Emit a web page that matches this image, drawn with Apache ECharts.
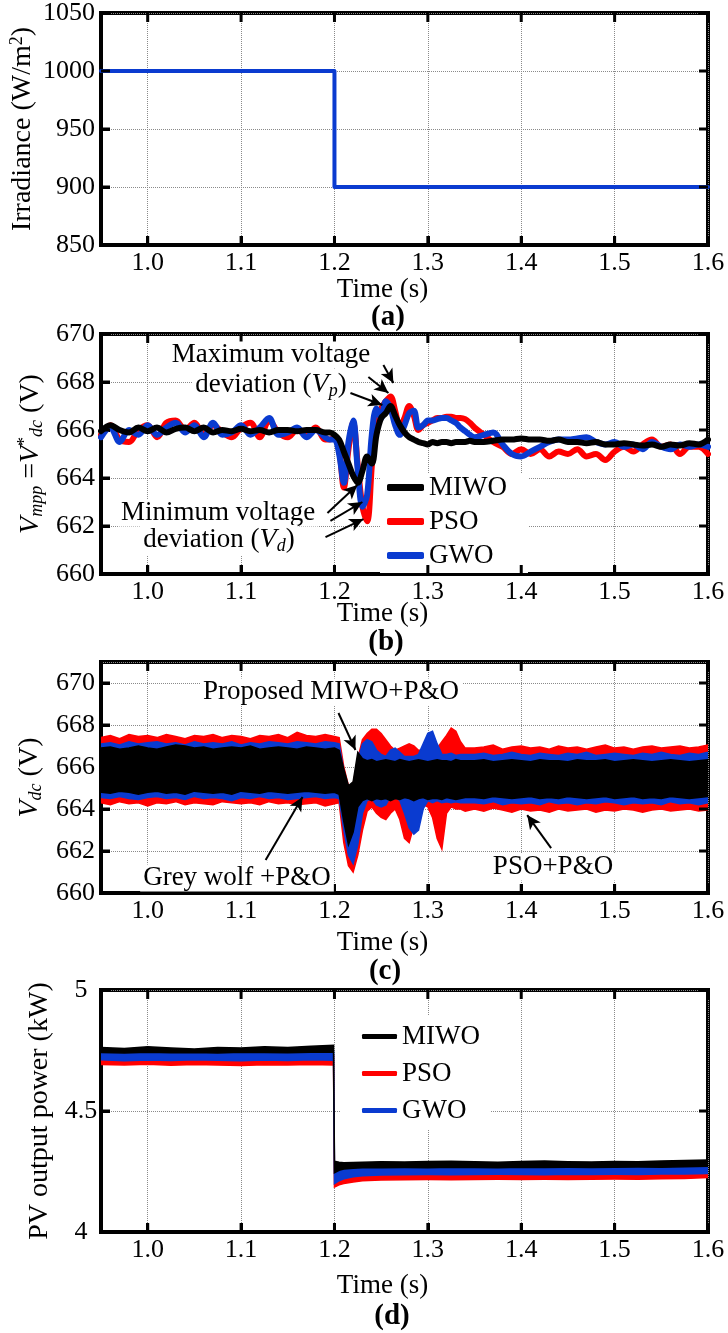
<!DOCTYPE html>
<html><head><meta charset="utf-8">
<script src="https://cdn.jsdelivr.net/npm/echarts@6/dist/echarts.min.js"></script>
<style>html,body{margin:0;padding:0;background:#fff}#c{width:728px;height:1333px}</style>
</head><body><div id="c"></div>
<script>
// ---------- data ----------
const xTicks = [1.0, 1.1, 1.2, 1.3, 1.4, 1.5, 1.6];
const yTicksA = [850, 900, 950, 1000, 1050];
const yTicksB = [660, 662, 664, 666, 668, 670];
const yTicksC = [660, 662, 664, 666, 668, 670];
const yTicksD = [4, 4.5, 5];

// (a) irradiance
const tA = [0.95, 1.2, 1.2, 1.6];
const irradiance = [1000, 1000, 900, 900];

// (b) Vmpp = V*dc
const tB = [0.95,0.96,0.97,0.98,0.99,1.00,1.01,1.02,1.03,1.04,1.05,1.06,1.07,1.08,1.09,1.10,1.11,1.12,1.13,1.14,1.15,1.16,1.17,1.18,1.19,
  1.195,1.2,1.205,1.21,1.215,1.22,1.225,1.23,1.235,1.24,1.245,1.25,1.255,1.26,1.265,1.27,1.275,1.28,1.285,1.29,1.295,1.30,1.305,1.31,1.315,1.32,1.325,1.33,1.335,1.34,1.345,1.35,
  1.36,1.37,1.38,1.39,1.40,1.41,1.42,1.43,1.44,1.45,1.46,1.47,1.48,1.49,1.50,1.51,1.52,1.53,1.54,1.55,1.56,1.57,1.58,1.59,1.60];
const miwoB = [665.95,666.2,666.0,665.9,666.1,665.95,666.1,665.9,666.05,666.1,665.95,666.1,665.9,666.0,665.95,666.05,665.95,666.0,665.9,666.0,666.0,665.95,666.0,666.0,665.9,
  665.9,665.8,665.6,665.1,664.6,664.1,663.8,664.3,664.9,664.6,665.8,666.5,666.7,667.0,666.6,666.2,665.9,665.7,665.6,665.5,665.45,665.4,665.5,665.45,665.5,665.5,665.45,665.5,665.5,665.5,665.55,665.5,
  665.5,665.55,665.6,665.6,665.65,665.6,665.6,665.55,665.6,665.5,665.5,665.45,665.5,665.4,665.4,665.45,665.4,665.35,665.4,665.3,665.4,665.35,665.45,665.4,665.6];
const psoB = [665.8,666.2,665.6,665.5,666.0,666.2,665.7,666.3,666.4,666.0,666.3,665.8,666.2,665.9,665.7,666.1,666.3,665.7,666.4,665.9,665.7,666.0,665.8,666.1,665.6,
  665.6,665.7,665.2,663.6,665.2,666.3,664.5,662.8,662.2,664.5,666.6,666.9,667.2,667.4,666.8,666.1,666.5,667.0,666.6,666.0,666.2,666.3,666.4,666.5,666.5,666.55,666.55,666.5,666.5,666.45,666.3,666.1,
  665.8,665.5,665.3,665.0,665.2,665.0,665.2,664.9,665.1,665.0,665.2,664.9,665.0,664.75,665.1,665.3,665.1,665.4,665.6,665.3,665.4,665.0,665.3,665.3,665.0];
const gwoB = [665.7,666.1,665.5,666.0,665.8,666.2,665.8,666.1,666.3,665.9,666.2,665.7,666.3,665.8,665.9,666.2,665.8,666.1,666.5,665.8,665.9,666.1,665.7,666.0,665.7,
  665.6,665.6,665.0,663.8,665.5,666.4,664.3,662.8,663.3,665.8,666.9,666.5,667.2,666.9,666.2,665.8,666.2,666.7,666.8,666.1,666.2,666.4,666.4,666.45,666.5,666.5,666.4,666.3,666.1,665.95,665.8,665.7,
  665.8,665.9,665.4,665.0,664.9,665.1,665.3,665.5,665.6,665.6,665.65,665.7,665.5,665.4,665.5,665.3,665.4,665.2,665.5,665.3,665.2,665.4,665.3,665.4,665.3];

// (c) Vdc ripple envelopes (upper / lower)
const tC = [0.95,0.96,0.97,0.98,0.99,1.00,1.01,1.02,1.03,1.04,1.05,1.06,1.07,1.08,1.09,1.10,1.11,1.12,1.13,1.14,1.15,1.16,1.17,1.18,1.19,1.20,
  1.205,1.21,1.215,1.22,1.225,1.23,1.235,1.24,1.245,1.25,1.255,1.26,1.265,1.27,1.275,1.28,1.285,1.29,1.295,1.30,1.305,1.31,1.315,1.32,1.325,1.33,1.335,1.34,
  1.35,1.36,1.37,1.38,1.39,1.40,1.41,1.42,1.43,1.44,1.45,1.46,1.47,1.48,1.49,1.50,1.51,1.52,1.53,1.54,1.55,1.56,1.57,1.58,1.59,1.60];
const miwoCUp = [666.9,666.95,666.85,666.9,667.0,666.9,666.85,666.95,667.05,667.0,666.9,666.95,666.85,666.9,666.95,666.9,667.0,666.85,666.9,666.95,666.9,666.85,666.95,666.9,666.85,666.9,
  666.8,665.9,665.1,665.3,666.7,666.4,666.3,666.35,666.25,666.3,666.35,666.3,666.25,666.35,666.3,666.25,666.3,666.35,666.3,666.25,666.3,666.35,666.3,666.3,666.25,666.35,666.3,666.3,
  666.3,666.35,666.25,666.3,666.35,666.3,666.25,666.35,666.3,666.3,666.25,666.35,666.3,666.3,666.35,666.25,666.3,666.35,666.3,666.25,666.3,666.35,666.3,666.25,666.3,666.35];
const miwoCLo = [664.8,664.75,664.85,664.8,664.7,664.8,664.85,664.75,664.8,664.7,664.85,664.8,664.75,664.8,664.7,664.85,664.8,664.75,664.85,664.8,664.75,664.8,664.85,664.8,664.75,664.8,
  664.7,663.4,662.3,662.9,664.1,664.4,664.5,664.4,664.5,664.45,664.5,664.4,664.5,664.45,664.55,664.5,664.4,664.5,664.55,664.45,664.5,664.5,664.45,664.55,664.5,664.45,664.5,664.55,
  664.55,664.5,664.6,664.55,664.5,664.55,664.6,664.5,664.55,664.5,664.6,664.55,664.5,664.55,664.6,664.5,664.55,664.6,664.5,664.55,664.5,664.6,664.55,664.5,664.55,664.6];
const gwoCUp = [667.1,667.15,667.05,667.2,667.1,667.15,667.2,667.1,667.15,667.05,667.2,667.1,667.15,667.1,667.2,667.05,667.15,667.1,667.2,667.15,667.1,667.2,667.15,667.1,667.2,667.15,
  667.1,665.8,665.0,665.1,666.3,667.1,667.3,667.2,666.8,666.6,666.5,666.8,666.9,666.7,666.5,666.5,666.5,666.6,667.1,667.6,667.7,667.1,666.6,666.6,666.65,666.55,666.6,666.6,
  666.6,666.65,666.55,666.6,666.7,666.6,666.55,666.65,666.6,666.55,666.65,666.6,666.7,666.55,666.6,666.65,666.6,666.55,666.65,666.6,666.7,666.6,666.55,666.65,666.6,666.7];
const gwoCLo = [664.55,664.5,664.6,664.5,664.45,664.55,664.6,664.5,664.55,664.45,664.6,664.5,664.55,664.5,664.4,664.55,664.5,664.6,664.5,664.55,664.45,664.5,664.55,664.6,664.5,664.55,
  664.5,663.0,661.8,661.4,662.3,663.8,664.4,664.5,664.2,664.1,664.2,664.6,664.6,664.4,663.8,663.1,662.8,663.0,664.0,664.4,664.3,664.4,664.3,664.35,664.3,664.35,664.3,664.3,
  664.3,664.25,664.35,664.2,664.3,664.25,664.3,664.2,664.35,664.25,664.3,664.2,664.3,664.25,664.35,664.3,664.2,664.3,664.25,664.3,664.2,664.35,664.25,664.3,664.2,664.3];
const psoCUp = [667.4,667.5,667.35,667.55,667.45,667.5,667.4,667.55,667.45,667.35,667.5,667.45,667.55,667.4,667.5,667.45,667.35,667.5,667.45,667.55,667.4,667.65,667.5,667.45,667.55,667.45,
  667.4,666.0,665.1,665.2,666.4,667.3,667.6,667.8,667.8,667.6,667.3,667.0,666.8,666.9,667.0,667.1,667.0,666.8,666.8,666.9,666.8,666.9,667.2,667.5,667.85,667.7,667.2,666.9,
  666.9,666.95,667.05,666.85,666.95,667.0,666.9,666.95,666.85,667.0,666.9,666.95,666.85,666.95,667.05,666.9,666.95,666.85,666.95,667.0,666.9,666.95,667.0,666.9,666.95,667.05];
const psoCLo = [664.3,664.2,664.35,664.25,664.3,664.15,664.3,664.25,664.35,664.2,664.3,664.25,664.2,664.35,664.3,664.25,664.3,664.2,664.35,664.25,664.3,664.2,664.25,664.3,664.15,664.25,
  664.3,662.4,661.3,661.0,661.8,663.0,663.9,664.1,663.8,663.6,663.5,663.8,664.0,663.5,662.6,662.4,663.2,664.0,664.2,664.1,663.6,662.6,662.1,663.8,664.1,664.0,664.0,663.9,
  664.0,663.9,664.05,663.95,663.85,664.0,663.9,663.95,663.85,664.0,663.9,663.95,664.0,663.85,663.95,663.9,664.0,663.95,663.85,663.95,664.0,663.9,663.95,664.0,663.9,663.95];

// (d) PV output power envelopes (kW)
const tD = [0.95,0.975,1.0,1.025,1.05,1.075,1.1,1.125,1.15,1.175,1.199,
  1.2,1.205,1.21,1.22,1.23,1.25,1.275,1.3,1.325,1.35,1.375,1.4,1.425,1.45,1.475,1.5,1.525,1.55,1.575,1.6];
const miwoDUp = [4.762,4.758,4.765,4.760,4.756,4.762,4.760,4.766,4.762,4.768,4.772,
  4.292,4.288,4.286,4.287,4.288,4.290,4.289,4.291,4.292,4.290,4.288,4.291,4.293,4.290,4.289,4.291,4.290,4.293,4.295,4.298];
const miwoDLo = [4.742,4.740,4.743,4.741,4.742,4.740,4.743,4.742,4.741,4.743,4.744,
  4.245,4.255,4.260,4.263,4.265,4.266,4.267,4.266,4.268,4.267,4.266,4.268,4.267,4.268,4.267,4.268,4.269,4.268,4.270,4.272];
const gwoDUp = [4.745,4.744,4.746,4.745,4.744,4.746,4.745,4.746,4.745,4.746,4.747,
  4.270,4.271,4.272,4.272,4.271,4.273,4.272,4.272,4.273,4.272,4.271,4.273,4.272,4.273,4.272,4.271,4.273,4.272,4.274,4.275];
const gwoDLo = [4.712,4.708,4.711,4.709,4.712,4.710,4.708,4.711,4.709,4.712,4.710,
  4.200,4.212,4.220,4.228,4.232,4.236,4.237,4.238,4.237,4.238,4.239,4.238,4.237,4.239,4.238,4.239,4.238,4.240,4.240,4.242];
const psoDUp = [4.728,4.726,4.729,4.727,4.728,4.726,4.729,4.727,4.728,4.727,4.728,
  4.240,4.245,4.248,4.250,4.250,4.251,4.250,4.252,4.251,4.250,4.252,4.251,4.250,4.252,4.251,4.252,4.251,4.253,4.254,4.258];
const psoDLo = [4.692,4.690,4.693,4.689,4.692,4.690,4.688,4.691,4.690,4.692,4.690,
  4.186,4.195,4.200,4.207,4.212,4.215,4.216,4.217,4.216,4.217,4.218,4.217,4.218,4.217,4.218,4.219,4.218,4.220,4.221,4.225];

// annotation arrows [x0, y0, x1, y1] in data units
const arrowsB = [[1.2171,667.54,1.2513,667.04],[1.2363,668.21,1.2578,667.54],[1.2524,668.71,1.2631,667.96],
  [1.1925,662.54,1.2246,663.71],[1.1957,662.21,1.2299,663.0],[1.1904,661.54,1.2310,662.29]];
const arrowsC = [[1.2043,668.57,1.2225,666.81],[1.1263,661.57,1.1658,664.57],[1.4320,662.14,1.4064,663.71]];

// ---------- styling / layout ----------
const FONT = '"Liberation Serif", serif';
const RED = '#ff0000', BLUE = '#0a3bd0', BLACK = '#000000';
const GRIDS = [{top:13,height:232},{top:334,height:240},{top:662,height:231},{top:990,height:242}];
const XR = [0.95, 1.6];
const YR = [[850,1050,50],[660,670,2],[660,671,2],[4,5,0.5]];
const Y_TICKS = [yTicksA, yTicksB, yTicksC, yTicksD];
const X_NAME_GAP = [31,26,36,40];
const Y_NAME_GAP = [63,55,56,46];
const RICH = {
  i:{fontStyle:'italic',fontFamily:FONT,fontSize:28,lineHeight:30,color:'#000'},
  sub:{fontStyle:'italic',fontFamily:FONT,fontSize:18,lineHeight:14,verticalAlign:'bottom',color:'#000'},
  sup:{fontFamily:FONT,fontSize:18,lineHeight:14,verticalAlign:'top',color:'#000'}
};
const Y_NAMES = ['Irradiance (W/m{sup|2})','{i|V}{sub|mpp} ={i|V}{sup|*}{sub|dc} (V)','{i|V}{sub|dc} (V)','PV output power (kW)'];

function axLine(){ return {show:true,onZero:false,lineStyle:{color:'#000',width:4}}; }
function axTick(){ return {show:true,inside:true,length:9,lineStyle:{color:'#000',width:3}}; }
const GRIDLINE = {show:true,lineStyle:{type:'dotted',color:'#8a8a8a',width:1}};

const xAxis = [], yAxis = [];
GRIDS.forEach((g,i)=>{
  xAxis.push({gridIndex:i,type:'value',min:XR[0],max:XR[1],
    name:'Time (s)',nameLocation:'middle',nameGap:X_NAME_GAP[i],nameMoveOverlap:false,
    nameTextStyle:{fontFamily:FONT,fontSize:27,color:'#000',lineHeight:27,padding:[0,44,0,0]},
    axisLine:axLine(),axisTick:Object.assign(axTick(),{customValues:xTicks.slice()}),
    axisLabel:{customValues:xTicks.slice(),formatter:v=>Number(v).toFixed(1),fontFamily:FONT,fontSize:26,color:'#000',margin:5},
    splitLine:GRIDLINE});
  yAxis.push({gridIndex:i,type:'value',min:YR[i][0],max:YR[i][1],interval:YR[i][2],
    name:Y_NAMES[i],nameLocation:'middle',nameRotate:90,nameGap:Y_NAME_GAP[i],nameMoveOverlap:false,
    nameTextStyle:{fontFamily:FONT,fontSize:28,color:'#000',lineHeight:30,rich:RICH},
    axisLine:axLine(),axisTick:axTick(),
    axisLabel:{fontFamily:FONT,fontSize:26,color:'#000',margin:i===3?20:6,align:i===3?'center':'right',
      formatter:v=>String(v),showMaxLabel:i===2?false:null},
    splitLine:GRIDLINE});
});

function lineS(name,color,t,v,gi,w,smooth){
  return {type:'line',name,xAxisIndex:gi,yAxisIndex:gi,data:t.map((x,k)=>[x,v[k]]),
    showSymbol:false,symbol:'none',smooth:smooth||false,
    lineStyle:{color,width:w,cap:'round',join:'round'},itemStyle:{color},silent:true,animation:false};
}
function band(name,color,t,lo,up,gi){
  return {type:'custom',name,xAxisIndex:gi,yAxisIndex:gi,itemStyle:{color},
    data:t.map((x,k)=>[x,lo[k],up[k]]),encode:{x:0,y:[1,2]},clip:true,silent:true,animation:false,
    renderItem:function(params,api){
      if(params.dataIndex!==0) return;
      const top=[],bot=[];
      for(let k=0;k<t.length;k++){top.push(api.coord([t[k],up[k]]));bot.push(api.coord([t[k],lo[k]]));}
      return {type:'polygon',shape:{points:top.concat(bot.reverse())},style:{fill:color,stroke:color,lineWidth:1.5}};
    }};
}
function arrows(name,list,gi){
  return {type:'line',name,xAxisIndex:gi,yAxisIndex:gi,data:[],silent:true,animation:false,
    markLine:{silent:true,animation:false,symbol:['none','arrow'],symbolSize:[10,14],precision:4,
      lineStyle:{color:'#000',width:2,type:'solid'},label:{show:false},
      data:list.map(a=>[{coord:[a[0],a[1]]},{coord:[a[2],a[3]]}])}};
}
// inward tick marks on all four sides of a panel, placed through the axes' scales
function ticks(gi){
  const L = 9, yr = YR[gi];
  const st = {stroke:'#000',lineWidth:3};
  return [
    {type:'custom',name:'xticks'+gi,xAxisIndex:gi,yAxisIndex:gi,silent:true,clip:false,z:4,animation:false,
     data:xTicks.map(v=>[v,yr[0]]),encode:{x:0,y:1},
     renderItem:(p,api)=>{
       const v=api.value(0), b=api.coord([v,yr[0]]), t=api.coord([v,yr[1]]);
       return {type:'group',children:[
         {type:'line',shape:{x1:b[0],y1:b[1],x2:b[0],y2:b[1]-L},style:st},
         {type:'line',shape:{x1:t[0],y1:t[1],x2:t[0],y2:t[1]+L},style:st}]};
     }},
    {type:'custom',name:'yticks'+gi,xAxisIndex:gi,yAxisIndex:gi,silent:true,clip:false,z:4,animation:false,
     data:Y_TICKS[gi].map(v=>[XR[0],v]),encode:{x:0,y:1},
     renderItem:(p,api)=>{
       const v=api.value(1), l=api.coord([XR[0],v]), r=api.coord([XR[1],v]);
       return {type:'group',children:[
         {type:'line',shape:{x1:l[0],y1:l[1],x2:l[0]+L,y2:l[1]},style:st},
         {type:'line',shape:{x1:r[0],y1:r[1],x2:r[0]-L,y2:r[1]},style:st}]};
     }}
  ];
}

const series = [
  lineS('Irradiance',BLUE,tA,irradiance,0,4,false),
  lineS('PSO',RED,tB,psoB,1,6,0.35),
  lineS('GWO',BLUE,tB,gwoB,1,6,0.35),
  lineS('MIWO',BLACK,tB,miwoB,1,6,0.35),
  arrows('notesB',arrowsB,1),
  band('PSO',RED,tC,psoCLo,psoCUp,2),
  band('GWO',BLUE,tC,gwoCLo,gwoCUp,2),
  band('MIWO',BLACK,tC,miwoCLo,miwoCUp,2),
  arrows('notesC',arrowsC,2),
  band('PSO',RED,tD,psoDLo,psoDUp,3),
  band('GWO',BLUE,tD,gwoDLo,gwoDUp,3),
  band('MIWO',BLACK,tD,miwoDLo,miwoDUp,3)
].concat(ticks(0),ticks(1),ticks(2),ticks(3));

function txt(text,x,y,extra){
  return {type:'text',z:5,silent:true,style:Object.assign({text,x,y,fontFamily:FONT,fontSize:27,fill:'#000',
    align:'center',verticalAlign:'middle',rich:RICH},extra||{})};
}
const WB = {backgroundColor:'#fff',padding:[0,3]};
const graphic = [
  txt('(a)',388,318,{fontWeight:'bold',fontSize:29}),
  txt('(b)',386,643,{fontWeight:'bold',fontSize:29}),
  txt('(c)',385,972,{fontWeight:'bold',fontSize:29}),
  txt('(d)',392,1317,{fontWeight:'bold',fontSize:29}),
  txt('Maximum voltage',271,355,WB),
  txt('deviation ({i|V}{sub|p})',271,385,Object.assign({lineHeight:30},WB)),
  txt('Minimum voltage',218,513,WB),
  txt('deviation ({i|V}{sub|d})',219,540,Object.assign({lineHeight:30},WB)),
  txt('Proposed MIWO+P&O',331,692,WB),
  txt('Grey wolf +P&O',237,878,WB),
  txt('PSO+P&O',553,867,WB)
];

const legendText = {fontFamily:FONT,fontSize:27,color:'#000'};
const option = {
  animation:false,
  backgroundColor:'#fff',
  grid:GRIDS.map(g=>({left:101,right:20,top:g.top,height:g.height,containLabel:false,outerBoundsMode:'none',
    show:true,borderColor:'#000',borderWidth:4,backgroundColor:'transparent'})),
  xAxis, yAxis, series, graphic,
  legend:[
    {data:['MIWO','PSO','GWO'],orient:'vertical',left:380,top:473,itemWidth:37,itemHeight:7,itemGap:7,icon:'roundRect',
     padding:[1,21,4,7],backgroundColor:'#fff',selectedMode:false,textStyle:Object.assign({lineHeight:26},legendText)},
    {data:['MIWO','PSO','GWO'],orient:'vertical',left:340,top:1015,itemWidth:35,itemHeight:5,itemGap:10,icon:'roundRect',
     padding:[8,10,6,22],backgroundColor:'#fff',selectedMode:false,textStyle:Object.assign({lineHeight:27},legendText)}
  ]
};
const chart = echarts.init(document.getElementById('c'),null,{renderer:'canvas'});
chart.setOption(option);
</script>
</body></html>
